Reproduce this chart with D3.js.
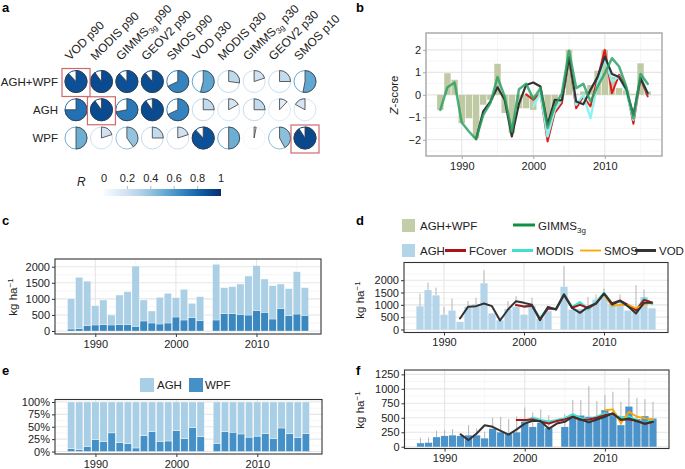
<!DOCTYPE html>
<html><head><meta charset="utf-8">
<script src="https://cdn.jsdelivr.net/npm/d3@7"></script>
<style>
body{margin:0;background:#fff}
text{font-family:"Liberation Sans",Arial,Helvetica,sans-serif}
</style>
</head><body>
<svg id="fig" width="685" height="469"></svg>
<script>
// ---------------- DATA ----------------
// panel a: correlation R between biomass and RS products
const colNames = ["VOD p90","MODIS p90","GIMMS3g p90","GEOV2 p90","SMOS p90","VOD p30","MODIS p30","GIMMS3g p30","GEOV2 p30","SMOS p10"];
const rowNames = ["AGH+WPF","AGH","WPF"];
const rAGHWPF = [0.88,0.90,0.88,0.89,0.68,0.54,0.27,0.20,0.25,0.53];
const rAGH    = [0.75,0.90,0.72,0.90,0.68,0.25,0.17,0.25,0.12,-0.17];
const rWPF    = [0.50,0.20,0.40,0.25,0.20,0.88,0.50,0.03,0.42,0.91];
const highlights = [["AGH+WPF","VOD p90"],["AGH","MODIS p90"],["WPF","SMOS p10"]];
const legendTicks = [0,0.2,0.4,0.6,0.8,1];

// panels c-f: field biomass
const years = [1987,1988,1989,1990,1991,1992,1993,1994,1995,1996,1997,1998,1999,2000,2001,2002,2003,
               2005,2006,2007,2008,2009,2010,2011,2012,2013,2014,2015,2016];
const wpf = [62,70,166,187,197,187,197,197,145,311,249,218,249,435,342,415,321,
             342,539,539,518,497,632,580,373,694,477,528,487];
const agh = [940,1600,1385,600,767,310,922,1026,1875,653,373,829,922,601,953,445,746,
             1731,808,839,943,1213,1400,1037,1036,767,839,1317,860];
const aghErrTop = [1460,1905,1700,920,1257,null,1162,1284,2405,null,null,1149,1351,null,1297,null,null,
                   2568,null,null,1324,1419,1662,null,1419,null,1800,1622,null];
const wpfErrTop = [158,160,276,288,305,null,374,317,259,501,518,478,524,679,593,645,547,
                   564,806,806,1048,789,892,950,777,1180,846,823,777];

// panel b: Z-scores
const zTotal = [-0.67,0.96,0.67,-1.26,-1.04,-1.93,-0.44,-0.22,1.38,-0.81,-1.70,-0.60,-0.60,-0.67,-0.05,-1.10,-0.50,
                2.00,0.05,0.15,0.44,1.07,2.00,0.80,0.30,0.20,0.05,1.40,0.15];
const gimmsYears = d3.range(1987,2017);
const gimmsZ = [-0.67,0.34,0.55,-1.23,-1.63,-1.97,-0.90,-0.37,0.79,-0.07,-1.63,0.25,0.49,-0.18,0.30,-1.48,-0.50,0.07,
                1.96,0.30,0.49,-0.30,0.37,0.96,1.63,1.26,0.37,-1.04,0.93,0.49];
const vodYears = d3.range(1992,2017);
const vodZ = [-1.97,-0.74,-0.30,0.34,-0.22,-1.85,-0.40,0.44,0.55,0.37,-1.33,-0.22,-0.25,1.67,-0.30,-0.42,0.22,0.80,1.70,0.93,0.79,0.25,-0.89,0.74,0.07];
const fcYears = d3.range(1999,2017);
const fcZ = [0.02,-0.22,0.07,-2.07,-0.80,-0.37,1.63,-0.60,-0.07,-0.52,0.74,2.00,0.07,0.89,0.30,-1.29,0.74,-0.07];
const modisYears = d3.range(2000,2017);
const modisZ = [-0.52,0.07,-1.85,-0.67,-0.22,1.78,-0.44,0.00,-1.04,0.52,1.63,0.59,0.81,0.15,-1.11,0.81,0.07];

// panel d: RS estimates of AGH (kg/ha)
const vodAGH = [446,919,946,1054,946,365,811,1149,1081,1000,378,919,811,1432,878,676,919,1054,1459,1014,1162,946,650,1081,1090];
const fcAGH = [990,930,960,420,850,830,1400,880,1000,870,1050,1450,1060,1180,1000,780,1200,1100];
const modisAGH = [920,960,450,880,820,1420,900,1100,820,1100,1480,1050,1150,950,720,1250,1050];
const smosYears = d3.range(2010,2017);
const smosAGH = [1400,950,1000,1000,860,1000,1100];

// panel f: RS estimates of WPF (kg/ha)
const vodWPF = [213,115,230,370,345,276,210,300,400,449,443,310,400,430,518,470,420,470,518,580,461,489,440,403,432];
const fcWPF = [460,460,472,432,403,443,472,518,461,472,500,547,564,472,472,449,391,432];
const modisWPF = [432,500,461,432,461,489,558,489,472,518,576,547,507,518,461,403,461];
const smosWPF = [633,645,403,605,518,489,472];

// ---------------- DRAW ----------------
const svg = d3.select("#fig");
svg.append("rect").attr("width",685).attr("height",469).attr("fill","#fff");
const TXT = "#222";

function plabel(t,x,y){
  svg.append("text").attr("x",x).attr("y",y).attr("font-size",13).attr("font-weight","bold").attr("fill","#000").text(t);
}
plabel("a",2,12); plabel("b",356,12); plabel("c",2,225); plabel("d",356,225); plabel("e",2,375); plabel("f",356,375);

// ---- panel a ----
const xa = d3.scalePoint().domain(colNames).range([76,305]);
const ya = d3.scalePoint().domain(rowNames).range([81.5,138]);
const color = d3.scaleSequential(d3.interpolateBlues).domain([0,1]);
const rows = {"AGH+WPF":rAGHWPF,"AGH":rAGH,"WPF":rWPF};
const pieR = 11;
const arc = d3.arc().innerRadius(0).outerRadius(pieR);
const ga = svg.append("g");
rowNames.forEach(rn=>{
  ga.append("text").attr("x",58).attr("y",ya(rn)+4).attr("text-anchor","end")
    .attr("font-size",11.5).attr("fill",TXT).text(rn);
  rows[rn].forEach((r,i)=>{
    const cx = xa(colNames[i]), cy = ya(rn);
    const c = color(Math.abs(r));
    const g = ga.append("g").attr("transform",`translate(${cx},${cy})`);
    g.append("circle").attr("r",pieR).attr("fill","#fff").attr("stroke",c).attr("stroke-width",1);
    g.append("path").attr("d",arc({startAngle:0,endAngle:r*2*Math.PI}))
      .attr("fill",c).attr("stroke","#3a3a3a").attr("stroke-width",0.8);
  });
});
highlights.forEach(([rn,cn])=>{
  ga.append("rect").attr("x",xa(cn)-14).attr("y",ya(rn)-13).attr("width",28).attr("height",28)
    .attr("fill","none").attr("stroke","#d06a6a").attr("stroke-width",1.2);
});
colNames.forEach(cn=>{
  const t = ga.append("text").attr("transform",`translate(${xa(cn)-6},${61}) rotate(-45)`)
    .attr("font-size",12).attr("fill",TXT);
  if(cn.includes("3g")){
    const parts = cn.split("3g");
    t.append("tspan").text(parts[0]);
    t.append("tspan").attr("font-size",8).attr("dy",3).text("3g");
    t.append("tspan").attr("dy",-3).text(parts[1]);
  } else t.text(cn);
});
// legend
const xl = d3.scaleLinear().domain([0,1]).range([104,221]);
const defs = svg.append("defs");
const grad = defs.append("linearGradient").attr("id","rgrad");
d3.range(0,1.01,0.1).forEach(v=>grad.append("stop").attr("offset",v).attr("stop-color",color(v)));
ga.append("rect").attr("x",xl(0)).attr("y",189).attr("width",xl(1)-xl(0)).attr("height",7).attr("fill","url(#rgrad)");
legendTicks.forEach(v=>{
  ga.append("text").attr("x",xl(v)).attr("y",182).attr("text-anchor","middle").attr("font-size",11).attr("fill",TXT).text(v);
  if(v>0&&v<1) ga.append("line").attr("x1",xl(v)).attr("x2",xl(v)).attr("y1",186).attr("y2",189).attr("stroke","#bbb");
});
ga.append("text").attr("x",77).attr("y",186).attr("font-size",12).attr("font-style","italic").attr("fill",TXT).text("R");

// ---- generic panel ----
function panel(cfg){
  const x = d3.scaleLinear().domain([1985,2018]).range([cfg.x0,cfg.x1]);
  const y = d3.scaleLinear().domain(cfg.yd).range([cfg.y1,cfg.y0]);
  const root = svg.append("g");
  const grid = root.append("g");
  const data = root.append("g");
  const top = root.append("g");
  const st = cfg.yt[1]-cfg.yt[0];
  const yMinor = d3.range(cfg.yt[0]-st*4.5, cfg.yd[1], st).filter(v=>v>cfg.yd[0]&&v<cfg.yd[1]);
  [1995,2005,2015].forEach(v=>grid.append("line").attr("x1",x(v)).attr("x2",x(v)).attr("y1",cfg.y0).attr("y2",cfg.y1).attr("stroke","#f2f2f2").attr("stroke-width",0.7));
  yMinor.forEach(v=>grid.append("line").attr("x1",cfg.x0).attr("x2",cfg.x1).attr("y1",y(v)).attr("y2",y(v)).attr("stroke","#f2f2f2").attr("stroke-width",0.7));
  [1990,2000,2010].forEach(v=>grid.append("line").attr("x1",x(v)).attr("x2",x(v)).attr("y1",cfg.y0).attr("y2",cfg.y1).attr("stroke","#e6e6e6").attr("stroke-width",1.1));
  cfg.yt.forEach(v=>grid.append("line").attr("x1",cfg.x0).attr("x2",cfg.x1).attr("y1",y(v)).attr("y2",y(v)).attr("stroke","#e6e6e6").attr("stroke-width",1.1));
  function finish(){
    top.append("rect").attr("x",cfg.x0).attr("y",cfg.y0).attr("width",cfg.x1-cfg.x0).attr("height",cfg.y1-cfg.y0)
      .attr("fill","none").attr("stroke",cfg.frame||"#333").attr("stroke-width",cfg.fw||1.1);
    const ax = top.append("g").attr("transform",`translate(0,${cfg.y1})`)
      .call(d3.axisBottom(x).tickValues([1990,2000,2010]).tickFormat(d3.format("d")).tickSize(3).tickPadding(3));
    const ay = top.append("g").attr("transform",`translate(${cfg.x0},0)`)
      .call(d3.axisLeft(y).tickValues(cfg.yt).tickFormat(cfg.yf||d3.format("d")).tickSize(3).tickPadding(2));
    [ax,ay].forEach(a=>{
      a.select(".domain").remove();
      a.selectAll("line").attr("stroke",cfg.frame||"#333");
      a.selectAll("text").attr("font-size",11).attr("fill",TXT).attr("font-family",'"Liberation Sans",Arial,sans-serif');
    });
    if(cfg.ylab){
      const t = top.append("text").attr("transform",`translate(${cfg.ylab[0]},${cfg.ylab[1]}) rotate(-90)`)
        .attr("text-anchor","middle").attr("font-size",11.5).attr("fill",TXT);
      if(cfg.ylab[2]==="kg"){
        t.append("tspan").text("kg ha");
        t.append("tspan").attr("font-size",8).attr("dy",-4).text("\u22121");
      } else {
        t.append("tspan").attr("font-style","italic").text("Z");
        t.append("tspan").text("-score");
      }
    }
  }
  return {x,y,data,finish};
}
const bw = 0.45;

// ---- panel b ----
const pb = panel({x0:426,x1:662,y0:33,y1:156,yd:[-2.72,2.75],yt:[-2,-1,0,1,2],frame:"#a5a5a5",fw:1.4,ylab:[398,95,"z"]});
pb.data.selectAll("rect").data(years).join("rect")
  .attr("x",d=>pb.x(d-bw)).attr("width",d=>pb.x(d+bw)-pb.x(d-bw))
  .attr("y",(d,i)=>pb.y(Math.max(0,zTotal[i]))).attr("height",(d,i)=>Math.abs(pb.y(zTotal[i])-pb.y(0)))
  .attr("fill","#bfcaa5");
function zline(p,xs,vs,col,w,op){
  p.data.append("path").datum(xs.map((d,i)=>[d,vs[i]]))
    .attr("d",d3.line().x(d=>p.x(d[0])).y(d=>p.y(d[1])))
    .attr("fill","none").attr("stroke",col).attr("stroke-width",w).attr("stroke-opacity",op||1)
    .attr("stroke-linejoin","round").attr("stroke-linecap","round");
}
zline(pb,fcYears,fcZ,"#e0191b",2);
zline(pb,modisYears,modisZ,"#8ef3f0",2.4);
zline(pb,vodYears,vodZ,"#333333",2.2);
zline(pb,gimmsYears,gimmsZ,"#27a060",2.5,0.82);
pb.finish();

// ---- panel c ----
const pc = panel({x0:55,x1:321,y0:259,y1:334,yd:[-93,2240],yt:[0,500,1000,1500,2000],ylab:[17,297,"kg"]});
const stackC = d3.stack().keys(["wpf","agh"])(years.map((d,i)=>({year:d,wpf:wpf[i],agh:agh[i]})));
const cCols = {wpf:"#3b87c0",agh:"#abd0e6"};
stackC.forEach(s=>{
  pc.data.append("g").selectAll("rect").data(s).join("rect")
    .attr("x",d=>pc.x(d.data.year-bw)).attr("width",d=>pc.x(d.data.year+bw)-pc.x(d.data.year-bw))
    .attr("y",d=>pc.y(d[1])).attr("height",d=>pc.y(d[0])-pc.y(d[1]))
    .attr("fill",cCols[s.key]).attr("stroke","#fff").attr("stroke-width",0.3);
});
pc.finish();

// ---- panel e ----
const pe = panel({x0:55,x1:322,y0:399.5,y1:454,yd:[-5,105],yt:[0,25,50,75,100],yf:d=>d+"%"});
const stackE = d3.stack().keys(["wpf","agh"]).offset(d3.stackOffsetExpand)(years.map((d,i)=>({year:d,wpf:wpf[i],agh:agh[i]})));
const eCols = {wpf:"#4590c6",agh:"#a8cfe5"};
stackE.forEach(s=>{
  pe.data.append("g").selectAll("rect").data(s).join("rect")
    .attr("x",d=>pe.x(d.data.year-bw)).attr("width",d=>pe.x(d.data.year+bw)-pe.x(d.data.year-bw))
    .attr("y",d=>pe.y(d[1]*100)).attr("height",d=>pe.y(d[0]*100)-pe.y(d[1]*100))
    .attr("fill",eCols[s.key]).attr("stroke","#fff").attr("stroke-width",0.4);
});
pe.finish();
// e legend
svg.append("rect").attr("x",140).attr("y",378).attr("width",14).attr("height",14).attr("fill","#a8cfe5");
svg.append("text").attr("x",157).attr("y",389).attr("font-size",11.5).attr("fill",TXT).text("AGH");
svg.append("rect").attr("x",189).attr("y",378).attr("width",14).attr("height",14).attr("fill","#4590c6");
svg.append("text").attr("x",205).attr("y",389).attr("font-size",11.5).attr("fill",TXT).text("WPF");

// ---- panel d ----
const pd = panel({x0:404,x1:668,y0:262.5,y1:332.5,yd:[-122,2718],yt:[0,500,1000,1500,2000],ylab:[364,300,"kg"]});
function errbars(p,top,vals){
  p.data.append("g").selectAll("line").data(years.filter((d,i)=>top[i]!=null)).join("line")
    .attr("x1",d=>p.x(d)).attr("x2",d=>p.x(d))
    .attr("y1",d=>p.y(vals[years.indexOf(d)])).attr("y2",d=>p.y(top[years.indexOf(d)]))
    .attr("stroke","#b5b5b5").attr("stroke-width",1);
}
errbars(pd,aghErrTop,agh);
pd.data.append("g").selectAll("rect").data(years).join("rect")
  .attr("x",d=>pd.x(d-bw)).attr("width",d=>pd.x(d+bw)-pd.x(d-bw))
  .attr("y",(d,i)=>pd.y(agh[i])).attr("height",(d,i)=>pd.y(0)-pd.y(agh[i]))
  .attr("fill","#b4d5e9");
zline(pd,modisYears,modisAGH,"#40e0d0",2.6);
zline(pd,fcYears,fcAGH,"#a8141a",2);
zline(pd,smosYears,smosAGH,"#ffa500",1.6);
zline(pd,vodYears,vodAGH,"#333333",2);
pd.finish();
// d legend
const lg = svg.append("g").attr("font-size",11.5).attr("fill",TXT);
lg.append("rect").attr("x",402).attr("y",219).attr("width",13).attr("height",13).attr("fill","#c3cea9");
lg.append("text").attr("x",420).attr("y",230).text("AGH+WPF");
lg.append("line").attr("x1",513).attr("x2",535).attr("y1",225).attr("y2",225).attr("stroke","#109040").attr("stroke-width",3);
const gt = lg.append("text").attr("x",538).attr("y",230);
gt.append("tspan").text("GIMMS"); gt.append("tspan").attr("font-size",8).attr("dy",3).text("3g");
lg.append("rect").attr("x",402).attr("y",244).attr("width",13).attr("height",13).attr("fill","#b4d5e9");
lg.append("text").attr("x",420).attr("y",255).text("AGH");
const keys = [["FCover","#a8141a",445,469],["MODIS","#40e0d0",512,536],["SMOS","#ffa500",580,598],["VOD","#333",635,658]];
keys.forEach(([t,c,x1,tx])=>{
  lg.append("line").attr("x1",x1).attr("x2",x1+21).attr("y1",250.5).attr("y2",250.5).attr("stroke",c).attr("stroke-width",t==="SMOS"?1.8:3);
  lg.append("text").attr("x",x1+24).attr("y",255).text(t);
});

// ---- panel f ----
const pf = panel({x0:404.5,x1:669,y0:370,y1:448.5,yd:[-30,1325],yt:[0,250,500,750,1000,1250],ylab:[364,410,"kg"]});
errbars(pf,wpfErrTop,wpf);
pf.data.append("g").selectAll("rect").data(years).join("rect")
  .attr("x",d=>pf.x(d-bw)).attr("width",d=>pf.x(d+bw)-pf.x(d-bw))
  .attr("y",(d,i)=>pf.y(wpf[i])).attr("height",(d,i)=>pf.y(0)-pf.y(wpf[i]))
  .attr("fill","#4b93c8");
zline(pf,modisYears,modisWPF,"#40e0d0",2.4);
zline(pf,fcYears,fcWPF,"#a8141a",2);
zline(pf,smosYears,smosWPF,"#ffa500",1.8);
zline(pf,vodYears,vodWPF,"#333333",2);
pf.finish();
</script>
</body></html>
